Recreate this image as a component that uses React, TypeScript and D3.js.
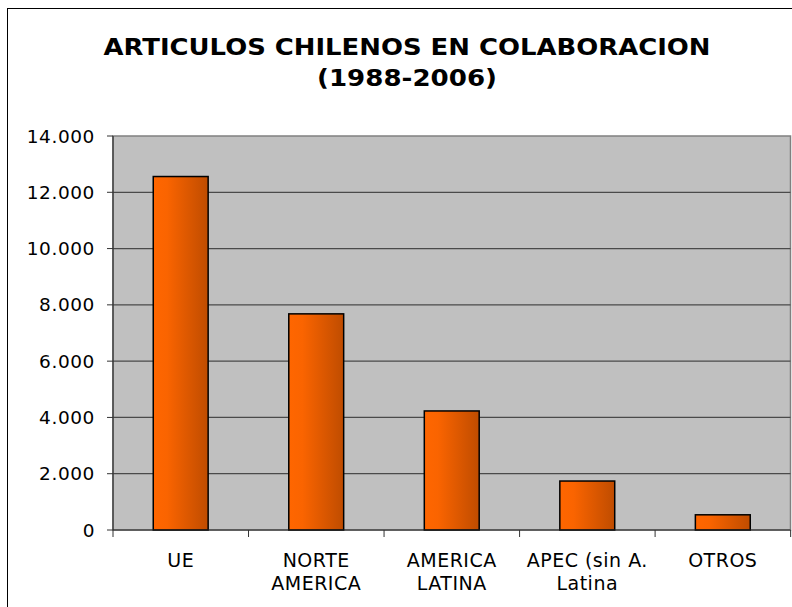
import React from "react";
import * as d3 from "d3";

const categories = ["UE", "NORTE AMERICA", "AMERICA LATINA", "APEC (sin A. Latina", "OTROS"];
const categoryLines = [["UE"], ["NORTE", "AMERICA"], ["AMERICA", "LATINA"], ["APEC (sin A.", "Latina"], ["OTROS"]];
const values = [12560, 7680, 4230, 1740, 540];
const yTicks = [0, 2000, 4000, 6000, 8000, 10000, 12000, 14000];
const titleLines = ["ARTICULOS CHILENOS EN COLABORACION", "(1988-2006)"];
const titleWidths = [607, 180];

const W = 792;
const H = 607;
const left = 113;
const right = 790.5;
const top = 136;
const bottom = 530;
const font = "'DejaVu Sans', Verdana, sans-serif";

export default function App() {
  const x = d3.scaleBand<string>().domain(categories).range([left, right]).paddingInner(0.595).paddingOuter(0.297);
  const y = d3.scaleLinear().domain([0, 14000]).range([bottom, top]);
  const fmt = (v: number) => d3.format(",")(v).replace(/,/g, ".");
  const step = x.step();
  const boundaries = d3.range(categories.length + 1).map((i) => left + i * step);

  return (
    <svg width={W} height={H} style={{ position: "absolute", left: 0, top: 0, display: "block" }}>
      <defs>
        <linearGradient id="barGrad" x1="0" x2="1" y1="0" y2="0">
          <stop offset="0%" stopColor="#FF6600" />
          <stop offset="25%" stopColor="#FA6400" />
          <stop offset="100%" stopColor="#BF4C00" />
        </linearGradient>
      </defs>
      <rect x={0} y={0} width={W} height={H} fill="#fff" />
      <rect x={7.5} y={8.5} width={W + 50} height={H + 50} fill="#fff" stroke="#000" strokeWidth={1} />
      {titleLines.map((t, i) => (
        <text
          key={t}
          x={407 - titleWidths[i] / 2}
          y={55 + i * 31}
          textLength={titleWidths[i]}
          lengthAdjust="spacingAndGlyphs"
          fontFamily={font}
          fontWeight="bold"
          fontSize={23.5}
          fill="#000"
        >
          {t}
        </text>
      ))}
      <rect x={left} y={top} width={right - left} height={bottom - top} fill="#C0C0C0" stroke="#808080" strokeWidth={1.5} />
      {yTicks.filter((t) => t > 0 && t < 14000).map((t) => (
        <line key={t} x1={left} x2={right} y1={y(t)} y2={y(t)} stroke="#4a4a4a" strokeWidth={1.2} />
      ))}
      {yTicks.map((t) => (
        <g key={"yt" + t}>
          <line x1={left - 6} x2={left} y1={y(t)} y2={y(t)} stroke="#333" strokeWidth={1} />
          <text x={95} y={y(t) + 6.5} textAnchor="end" fontFamily={font} fontSize={18.5} letterSpacing={0.6} fill="#000">
            {fmt(t)}
          </text>
        </g>
      ))}
      {categories.map((c, i) => (
        <rect
          key={c}
          x={x(c)!}
          y={y(values[i])}
          width={x.bandwidth()}
          height={bottom - y(values[i])}
          fill="url(#barGrad)"
          stroke="#000"
          strokeWidth={1.5}
        />
      ))}
      <line x1={left} x2={left} y1={top} y2={bottom} stroke="#333" strokeWidth={1.2} />
      <line x1={left} x2={right} y1={bottom} y2={bottom} stroke="#222" strokeWidth={1.2} />
      {boundaries.map((b, i) => (
        <line key={"xt" + i} x1={b} x2={b} y1={bottom} y2={bottom + 7} stroke="#333" strokeWidth={1} />
      ))}
      {categories.map((c, i) => (
        <text key={"lab" + c} x={x(c)! + x.bandwidth() / 2} textAnchor="middle" fontFamily={font} fontSize={19} letterSpacing={0.5} fill="#000">
          {categoryLines[i].map((ln, j) => (
            <tspan key={j} x={x(c)! + x.bandwidth() / 2} y={567 + j * 23}>
              {ln}
            </tspan>
          ))}
        </text>
      ))}
    </svg>
  );
}
